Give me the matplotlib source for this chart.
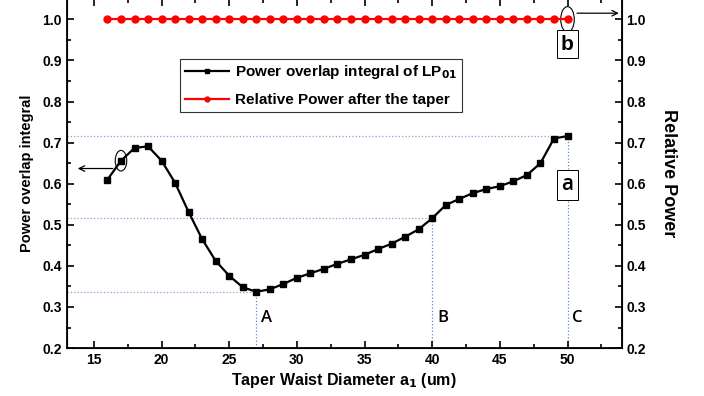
import matplotlib
matplotlib.use("Agg")
import matplotlib.pyplot as plt
from matplotlib.patches import Ellipse
from matplotlib.ticker import MultipleLocator

plt.rcParams["font.family"] = ["Liberation Sans", "DejaVu Sans"]

# taper waist diameter (um)
diameters = list(range(16, 51))
# power overlap integral of LP01
overlap = [0.610, 0.656, 0.687, 0.691, 0.656, 0.602, 0.531, 0.465, 0.412, 0.376,
           0.348, 0.337, 0.343, 0.356, 0.371, 0.382, 0.393, 0.405, 0.416, 0.427,
           0.441, 0.454, 0.471, 0.489, 0.516, 0.548, 0.563, 0.577, 0.587, 0.594,
           0.606, 0.621, 0.650, 0.710, 0.716]
# relative power after the taper
rel_power = [1.0] * len(diameters)

marked_x = [27, 40, 50]
marked_labels = ["A", "B", "C"]

fig = plt.figure(figsize=(7.04, 3.96), dpi=100)
ax = fig.add_axes([0.095, 0.121, 0.788, 0.882])

ax.plot(diameters, overlap, color="black", marker="s", markersize=4.5, linewidth=1.6,
        label="Power overlap integral of LP$_{\\mathbf{01}}$")
ax.plot(diameters, rel_power, color="red", marker="o", markersize=5, linewidth=1.6,
        label="Relative Power after the taper")

ax.set_xlim(13, 54)
ax.set_ylim(0.2, 1.05)

# dotted guide lines to the marked points
for xm, lab in zip(marked_x, marked_labels):
    ym = overlap[diameters.index(xm)]
    ax.plot([13, xm], [ym, ym], color="#7fa6d6", linestyle=":", linewidth=0.9, zorder=1)
    ax.plot([xm, xm], [0.2, ym], color="#5a8ccc", linestyle=":", linewidth=0.9, zorder=1)
    ax.text(xm + 0.35, 0.272, lab, fontsize=12, fontweight=600,
            family=["Open Sans", "DejaVu Sans"], ha="left", va="center")

# annotation marks
ax.add_patch(Ellipse((17, overlap[1]), 0.85, 0.05, fill=False, edgecolor="black", linewidth=0.8))
ax.annotate("", xy=(13.6, 0.637), xytext=(16.6, 0.637),
            arrowprops=dict(arrowstyle="->", color="black", lw=0.9))
ax.add_patch(Ellipse((50, 1.0), 1.0, 0.062, fill=False, edgecolor="black", linewidth=0.8))
ax.annotate("", xy=(54.0, 1.015), xytext=(50.5, 1.015),
            arrowprops=dict(arrowstyle="->", color="black", lw=0.9))
box = dict(boxstyle="square,pad=0.2", facecolor="white", edgecolor="black", linewidth=0.7)
ax.text(50, 0.94, "b", fontsize=15, fontweight="bold", ha="center", va="center", bbox=box)
ax.text(50, 0.597, "a", fontsize=15, fontweight=600, family=["Open Sans", "DejaVu Sans"],
        ha="center", va="center", bbox=box)

ax.xaxis.set_major_locator(MultipleLocator(5))
ax.xaxis.set_minor_locator(MultipleLocator(2.5))
ax.yaxis.set_major_locator(MultipleLocator(0.1))
ax.yaxis.set_minor_locator(MultipleLocator(0.05))
ax.tick_params(which="both", direction="in", top=True, right=False, labelsize=10, width=1.2)
ax.tick_params(which="major", length=5)
ax.tick_params(which="minor", length=3)
for t in ax.get_xticklabels() + ax.get_yticklabels():
    t.set_fontweight("bold")
for s in ax.spines.values():
    s.set_linewidth(1.3)

ax2 = ax.twinx()
ax2.set_ylim(0.2, 1.05)
ax2.yaxis.set_major_locator(MultipleLocator(0.1))
ax2.yaxis.set_minor_locator(MultipleLocator(0.05))
ax2.tick_params(which="both", direction="in", labelsize=10, width=1.2)
ax2.tick_params(which="major", length=5)
ax2.tick_params(which="minor", length=3)
for t in ax2.get_yticklabels():
    t.set_fontweight("bold")
ax2.set_ylabel("Relative Power", fontsize=13, fontweight="bold", rotation=-90, labelpad=22)

ax.set_xlabel("Taper Waist Diameter a$_{\\mathbf{1}}$ (um)", fontsize=11.5, fontweight="bold", labelpad=3)
ax.set_ylabel("Power overlap integral", fontsize=10.5, fontweight="bold", labelpad=6)

leg = ax.legend(loc="upper left", bbox_to_anchor=(0.204, 0.828), fancybox=False,
                prop={"weight": "bold", "size": 11}, handlelength=2.9, borderpad=0.3,
                labelspacing=0.75, handletextpad=0.4, borderaxespad=0)
leg.get_frame().set_edgecolor("black")
leg.get_frame().set_linewidth(0.8)
for h in leg.legend_handles:
    h.set_markersize(3.5)

fig.savefig("out.png", dpi=100)
